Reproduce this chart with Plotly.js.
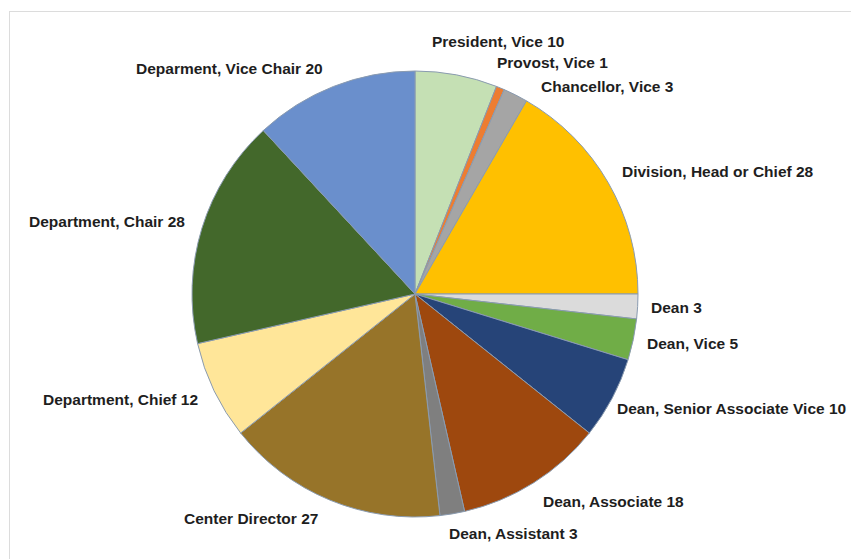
<!DOCTYPE html>
<html>
<head>
<meta charset="utf-8">
<script src="https://cdn.plot.ly/plotly-3.0.1.min.js"></script>
<style>
html,body{margin:0;padding:0;background:#fff;}
#wrap{position:relative;width:851px;height:559px;overflow:hidden;}
#chart{position:absolute;left:0;top:0;width:851px;height:559px;}
#frame{position:absolute;left:9px;top:11px;width:900px;height:600px;border:1px solid #dcdcdc;pointer-events:none;}
</style>
</head>
<body>
<div id="wrap"><div id="chart"></div><div id="frame"></div></div>
<script>
const categories = [
  "President, Vice",
  "Provost, Vice",
  "Chancellor, Vice",
  "Division, Head or Chief",
  "Dean",
  "Dean, Vice",
  "Dean, Senior Associate Vice",
  "Dean, Associate",
  "Dean, Assistant",
  "Center Director",
  "Department, Chief",
  "Department, Chair",
  "Deparment, Vice Chair"
];
const counts = [10, 1, 3, 28, 3, 5, 10, 18, 3, 27, 12, 28, 20];
const sliceColors = [
  "#c5e0b4", "#ed7d31", "#a5a5a5", "#ffc000", "#dbdbdb", "#70ad47",
  "#264478", "#9e480e", "#7f7f7f", "#977429", "#ffe699", "#43682b", "#6a8fcc"
];

// layout: page size, pie placement, label centres (pixels, from top-left)
const W = 851, H = 559;
const cx = 415, cy = 294, r = 223;
const labelCentres = [
  [497.5, 41], [552, 63], [607.5, 86], [717.5, 171], [676, 307], [692.5, 343],
  [731, 408], [613, 501], [513.5, 533], [251, 518], [120, 399], [106.5, 222], [229.5, 68]
];

const labelsText = categories.map((c, i) => c + " " + counts[i]);

const trace = {
  type: "pie",
  labels: categories,
  values: counts,
  textinfo: "none",
  sort: false,
  direction: "clockwise",
  rotation: 0,
  hoverinfo: "label+value",
  marker: {colors: sliceColors, line: {color: "#8a9bb0", width: 1}},
  domain: {x: [(cx - r) / W, (cx + r) / W], y: [(H - cy - r) / H, (H - cy + r) / H]},
  automargin: false
};

const annotations = labelsText.map((t, i) => ({
  text: t,
  xref: "paper", yref: "paper",
  x: labelCentres[i][0] / W,
  y: 1 - labelCentres[i][1] / H,
  xanchor: "center", yanchor: "middle",
  showarrow: false,
  font: {family: "Liberation Sans, Arial, sans-serif", size: 15.5, color: "#1e1e1e", weight: "bold"}
}));

Plotly.newPlot("chart", [trace], {
  width: W, height: H,
  margin: {l: 0, r: 0, t: 0, b: 0},
  paper_bgcolor: "#ffffff",
  showlegend: false,
  annotations: annotations,
  font: {family: "Liberation Sans, Arial, sans-serif"}
}, {displayModeBar: false, staticPlot: true});
</script>
</body>
</html>
